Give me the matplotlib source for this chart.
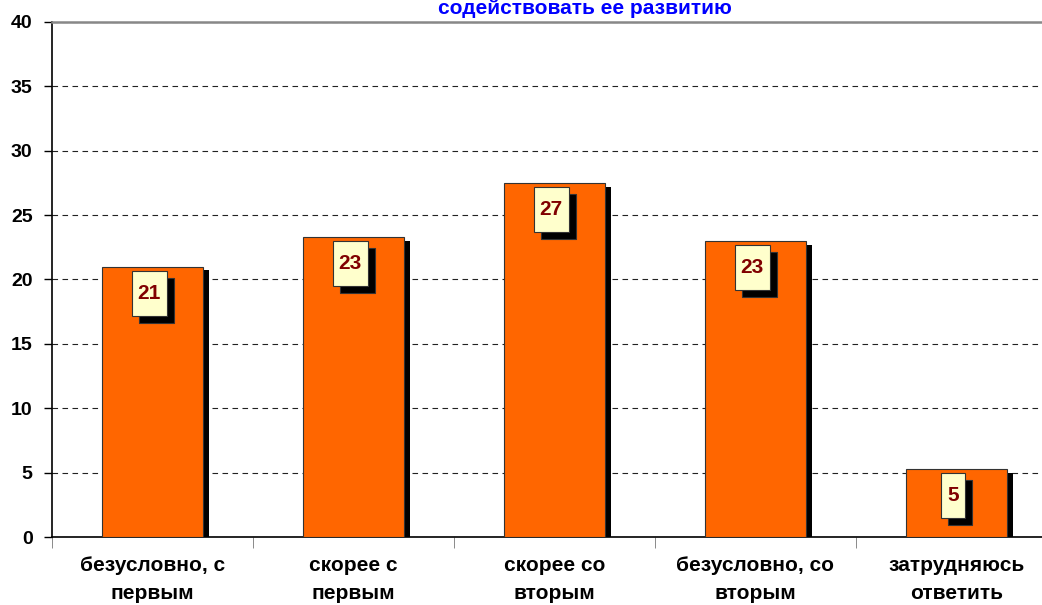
import numpy as np
import matplotlib.pyplot as plt
from matplotlib.patches import Rectangle
from matplotlib.transforms import Affine2D, ScaledTranslation

plt.rcParams['font.family'] = ['Liberation Sans', 'DejaVu Sans']

categories = ['безусловно, с\nпервым', 'скорее с\nпервым', 'скорее со\nвторым',
              'безусловно, со\nвторым', 'затрудняюсь\nответить']
values = [21.0, 23.3, 27.5, 23.0, 5.3]
value_labels = ['21', '23', '27', '23', '5']
title = 'содействовать ее развитию'

fig = plt.figure(figsize=(10.42, 6.05), dpi=100)
ax = fig.add_axes([52/1042, 68/605, 1005/1042, 515/605])

x = np.arange(len(values))
vals = np.array(values)

# bar shadows
ax.bar(x + 0.033, vals - 0.3, width=0.5, color='black', zorder=2)
ax.bar(x, vals, width=0.5, color='#FF6600', edgecolor='#333333', linewidth=0.8, zorder=3)

# label boxes with shadows, sized in pixels
for i, (v, lab) in enumerate(zip(values, value_labels)):
    w = 12 + 11.5 * len(lab)
    h = 45
    cx, top = -3.5, -4
    for dx, dy, fc, z in [(7, -7, 'black', 4), (0, 0, '#FFFFCC', 5)]:
        tr = Affine2D() + ScaledTranslation(i, v, ax.transData)
        r = Rectangle((cx - w/2 + dx, top - h + dy), w, h, facecolor=fc,
                      edgecolor='#333333', linewidth=0.8, transform=tr, zorder=z,
                      clip_on=False)
        ax.add_patch(r)
    ax.annotate(lab, xy=(i, v), xytext=(cx, top - h/2), textcoords='offset pixels',
                ha='center', va='center', fontsize=15, fontweight='bold',
                color='#800000', zorder=6)

ax.set_xlim(-0.5, 4.5)
ax.set_ylim(0, 40)
ax.set_yticks(range(0, 41, 5))
ax.tick_params(axis='y', labelsize=14, length=6, width=1, direction='out', pad=8)
for t in ax.get_yticklabels():
    t.set_fontweight('bold')

ax.set_xticks(x)
ax.set_xticklabels(categories, fontsize=15, fontweight='bold', linespacing=1.55)
ax.tick_params(axis='x', length=0, pad=14)
ax.set_xticks(np.arange(-0.5, 5, 1), minor=True)
ax.tick_params(axis='x', which='minor', length=8, color='#777777')

ax.yaxis.grid(True, linestyle=(0, (5, 4)), color='#222222', linewidth=0.8)
ax.set_axisbelow(True)
ax.spines['right'].set_visible(False)
ax.spines['top'].set_color('#888888')
ax.spines['top'].set_linewidth(1.8)
ax.spines['left'].set_color('black')
ax.spines['left'].set_linewidth(1.2)
ax.spines['bottom'].set_color('black')
ax.spines['bottom'].set_linewidth(1.2)

fig.text(585/1042, 1 - 9/605, title, ha='center', va='center', color='#0000FF',
         fontsize=15, fontweight='bold')

fig.savefig('out.png', dpi=100)
